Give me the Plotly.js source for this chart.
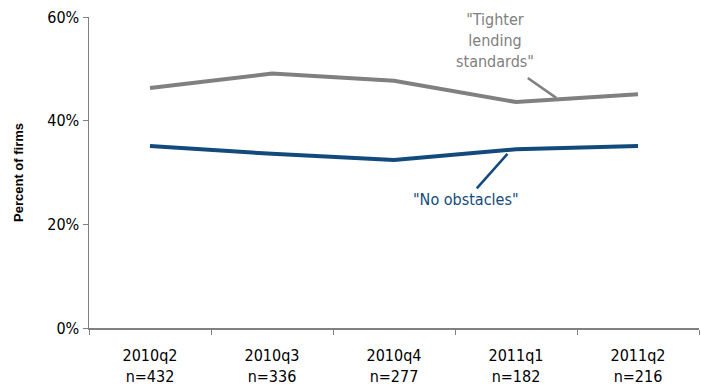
<!DOCTYPE html>
<html>
<head>
<meta charset="utf-8">
<script src="https://cdn.plot.ly/plotly-3.0.1.min.js"></script>
<style>html,body{margin:0;padding:0;background:#fff}#chart{width:701px;height:390px}</style>
</head>
<body>
<div id="chart"></div>
<script>
const quarters = ["2010q2", "2010q3", "2010q4", "2011q1", "2011q2"];
const sampleSizes = ["n=432", "n=336", "n=277", "n=182", "n=216"];
const tighterLending = [46.3, 49.1, 47.7, 43.6, 45.1];
const noObstacles = [35.1, 33.6, 32.4, 34.5, 35.1];

const cats = quarters.map((q, i) => q + "<br>" + sampleSizes[i]);
const font = "DejaVu Sans Condensed, DejaVu Sans, sans-serif";

const traces = [
  {x: cats, y: tighterLending, type: "scatter", mode: "lines", line: {color: "#808080", width: 4}, hoverinfo: "none"},
  {x: cats, y: noObstacles, type: "scatter", mode: "lines", line: {color: "#124a7c", width: 4}, hoverinfo: "none"}
];

const layout = {
  width: 701, height: 390,
  margin: {l: 89, r: 2, t: 17, b: 62},
  showlegend: false,
  paper_bgcolor: "#fff", plot_bgcolor: "#fff",
  font: {family: font, color: "#000", size: 16},
  xaxis: {
    type: "category", range: [-0.5, 4.5],
    tickson: "boundaries", ticks: "outside", ticklen: 5, tickcolor: "#808080",
    showline: true, linecolor: "#808080", linewidth: 1.5, showgrid: false, zeroline: false,
    ticklabelstandoff: 12,
    tickfont: {family: font, size: 16, color: "#000"}
  },
  yaxis: {
    range: [0, 60], dtick: 20, ticksuffix: "%",
    ticks: "outside", ticklen: 5, tickcolor: "#808080",
    showline: true, linecolor: "#808080", linewidth: 1.5, showgrid: false, zeroline: false,
    tickfont: {family: font, size: 16, color: "#000"},
    title: {text: "<b>Percent of firms</b>", font: {family: "Liberation Sans, Arial, sans-serif", size: 13, color: "#000"}, standoff: 20}
  },
  annotations: [
    {x: 2.83, y: 55.4, xref: "x", yref: "y", text: "\"Tighter<br>lending<br>standards\"", showarrow: false,
     font: {family: font, size: 16, color: "#808080"}, align: "center"},
    {x: 3.33, y: 44.4, xref: "x", yref: "y", text: "", showarrow: true, arrowhead: 0, arrowwidth: 2.5,
     arrowcolor: "#808080", ax: -30, ay: -21, standoff: 0, startstandoff: 0},
    {x: 2.59, y: 24.7, xref: "x", yref: "y", text: "\"No obstacles\"", showarrow: false,
     font: {family: font, size: 16, color: "#124a7c"}},
    {x: 2.93, y: 33.6, xref: "x", yref: "y", text: "", showarrow: true, arrowhead: 0, arrowwidth: 2.5,
     arrowcolor: "#124a7c", ax: -32, ay: 36, standoff: 0, startstandoff: 0}
  ]
};

Plotly.newPlot("chart", traces, layout, {staticPlot: true, displayModeBar: false});
</script>
</body>
</html>
